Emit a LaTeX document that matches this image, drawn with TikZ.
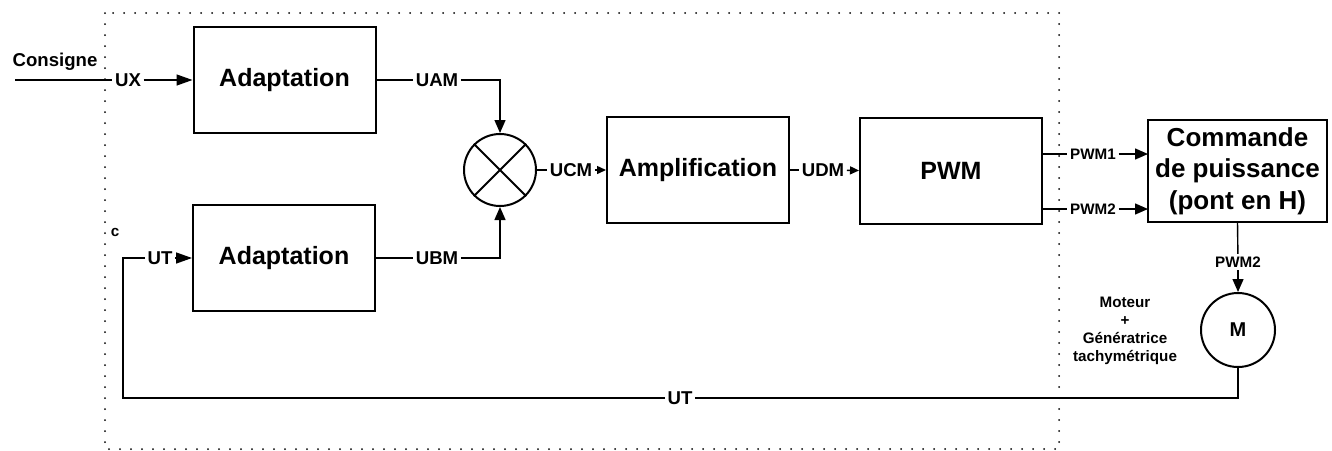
\documentclass[tikz,border=0pt]{standalone}
\usepackage{fontspec}
\setmainfont{Liberation Sans}
\usetikzlibrary{arrows.meta}
\begin{document}
\begin{tikzpicture}[x=0.5pt,y=-0.5pt,
  blk/.style={draw,line width=1pt,minimum width=91pt,minimum height=53pt,inner sep=0pt,font=\fontsize{12.5}{15}\selectfont\bfseries},
  lbl/.style={inner sep=1.2pt,font=\fontsize{9.3}{11}\selectfont\bfseries},
  tiny/.style={inner sep=1.2pt,font=\fontsize{7.6}{9}\selectfont\bfseries},
  wire/.style={line width=0.7pt},
  big/.style={-{Triangle[length=8pt,width=5.5pt]}},
  small/.style={-{Triangle[length=4.5pt,width=4pt]}},
  mid/.style={-{Triangle[length=6.5pt,width=5.5pt]}}]
\useasboundingbox (0,0) rectangle (1332,450);
% dotted frame
\draw[line width=1pt,line cap=round,dash pattern=on 0pt off 5.5pt] (105,13) rectangle (1059,449);
% blocks
\node[blk] (adA) at (284.5,80) {Adaptation};
\node[blk] (adB) at (284,258) {Adaptation};
\node[blk] (amp) at (698,170) {Amplification};
\node[blk] (pwm) at (951,170.5) {PWM};
\node[blk,minimum width=89.5pt,minimum height=51pt,align=center,font=\fontsize{13}{15.75}\selectfont\bfseries] (cmd) at (1237.5,171) {Commande\\de puissance\\(pont en H)};
\node[draw,circle,line width=1pt,minimum size=36pt,inner sep=0pt] (mix) at (500,170) {};
\draw[line width=1pt] (mix.north west) -- (mix.south east) (mix.north east) -- (mix.south west);
\node[draw,circle,line width=1pt,minimum size=37pt,inner sep=0pt,font=\fontsize{10}{12}\selectfont\bfseries] (mot) at (1238,330) {M};
% labels
\node[lbl] (cons) at (55,62) {Consigne};
\coordinate (in) at (15,80);
\node[lbl] (ux) at (128,80) {UX};
\node[lbl] (uam) at (437,80) {UAM};
\coordinate (ka) at (500,80);
\node[lbl] (ubm) at (437,258) {UBM};
\coordinate (kb) at (500,258);
\node[lbl] (ucm) at (571,170) {UCM};
\node[lbl] (udm) at (823,170) {UDM};
\node[tiny] (p1) at (1093,154) {PWM1};
\node[tiny] (p2) at (1093,209) {PWM2};
\coordinate (p1s) at (1042,154);
\coordinate (p1e) at (1148,154);
\coordinate (p2s) at (1042,209);
\coordinate (p2e) at (1148,209);
\node[tiny] (p3) at (1238,262) {PWM2};
\node[tiny,align=center,font=\fontsize{7.6}{9}\selectfont\bfseries] (mtxt) at (1125,331) {Moteur\\+\\Génératrice\\tachymétrique};
\coordinate (mb) at (1238,398);
\node[lbl] (utb) at (680,398) {UT};
\coordinate (lb) at (123,398);
\coordinate (lt) at (123,258);
\node[lbl] (ut) at (160,258) {UT};
\node[tiny] (c) at (115,232) {c};
% connectors
\draw[wire] (in) -- (ux);
\draw[wire,big] (ux) -- (adA.west);
\draw[wire] (adA.east) -- (uam);
\draw[wire,mid] (uam) -- (ka) -- (mix.north);
\draw[wire] (adB.east) -- (ubm);
\draw[wire,mid] (ubm) -- (kb) -- (mix.south);
\draw[wire] (mix.east) -- (ucm);
\draw[wire,small] (ucm) -- (amp.west);
\draw[wire] (amp.east) -- (udm);
\draw[wire,small] (udm) -- (pwm.west);
\draw[wire] (p1s) -- (p1);
\draw[wire,mid] (p1) -- (p1e);
\draw[wire] (p2s) -- (p2);
\draw[wire,mid] (p2) -- (p2e);
\draw[wire] (cmd.south) -- (p3);
\draw[wire,mid] (p3) -- (mot.north);
\draw[wire] (mot.south) -- (mb) -- (utb);
\draw[wire] (utb) -- (lb) -- (lt) -- (ut);
\draw[wire,big] (ut) -- (adB.west);
\end{tikzpicture}
\end{document}
